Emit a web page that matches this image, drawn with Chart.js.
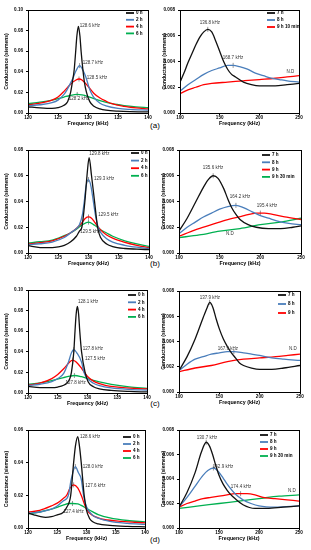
<!DOCTYPE html>
<html>
<head>
<meta charset="utf-8">
<script src="https://cdn.jsdelivr.net/npm/chart.js@4.4.0/dist/chart.umd.min.js"></script>
<style>
  body { margin: 0; background: #fff; width: 311px; height: 550px; position: relative; overflow: hidden; font-family: "Liberation Sans", Arial, sans-serif; }
  .tag { position: absolute; width: 20px; text-align: center; font-size: 8px; color: #000; }
</style>
</head>
<body>
<div class="tag" style="left:145px;top:121px">(a)</div>
<div class="tag" style="left:145px;top:259px">(b)</div>
<div class="tag" style="left:145px;top:399px">(c)</div>
<div class="tag" style="left:145px;top:535px">(d)</div>
<script>
// tick values
const leftXTicks = [120, 125, 130, 135, 140];
const rightXTicks = [100, 150, 200, 250];
const yTicks010 = [0, 0.02, 0.04, 0.06, 0.08, 0.10];
const yTicks008 = [0, 0.02, 0.04, 0.06, 0.08];
const yTicks006 = [0, 0.02, 0.04, 0.06];
const yTicksRight = [0, 0.002, 0.004, 0.006, 0.008];

// legend labels
const leftLabels = ['0 h', '2 h', '4 h', '6 h'];
const rightLabelsA = ['7 h', '8 h', '9 h 10 min'];
const rightLabelsB = ['7 h', '8 h', '9 h', '9 h 30 min'];
const rightLabelsC = ['7 h', '8 h', '9 h'];
const rightLabelsD = ['7 h', '8 h', '9 h', '9 h 30 min'];

// (a) left: [frequency kHz, conductance S]
const aL0h = [[120,0.0060],[122,0.0050],[124,0.0045],[125,0.0052],[126,0.0075],[126.6,0.011],[127.1,0.020],[127.4,0.030],[127.7,0.042],[127.95,0.060],[128.15,0.075],[128.4,0.084],[128.65,0.075],[128.85,0.060],[129.15,0.042],[129.4,0.030],[129.75,0.020],[130.3,0.011],[131,0.0065],[132,0.0040],[133,0.0028],[135,0.0018],[137,0.0013],[140,0.0010]];
const aL2h = [[120,0.0070],[122,0.0080],[124,0.0100],[125,0.0125],[126,0.0180],[126.5,0.0225],[127,0.028],[127.5,0.034],[128,0.041],[128.6,0.046],[129.2,0.041],[129.7,0.034],[130.1,0.026],[130.5,0.020],[131,0.015],[132,0.0095],[133,0.0070],[135,0.0045],[137,0.0035],[140,0.0028]];
const aL4h = [[120,0.0080],[122,0.0095],[124,0.0125],[125,0.0155],[126,0.0210],[127,0.0275],[128,0.0320],[128.5,0.0330],[129,0.0320],[130,0.0260],[131,0.0190],[132,0.0145],[133,0.0115],[134,0.0090],[136,0.0065],[138,0.0050],[140,0.0040]];
const aL6h = [[120,0.0090],[122,0.0105],[124,0.0125],[126,0.0155],[127,0.0170],[128.2,0.0180],[129,0.0175],[130,0.0160],[131,0.0140],[132,0.0120],[134,0.0090],[136,0.0072],[138,0.0060],[140,0.0052]];
const aLMarks = [[128.6,0.046],[128.5,0.033],[128.2,0.018]];
const aLNotes = [[130.3,0.0845,'128.6 kHz'],[130.8,0.0485,'128.7 kHz'],[131.5,0.034,'128.5 kHz'],[128.5,0.0136,'128.2 kHz']];

// (a) right
const aR7h = [[100,0.0024],[105,0.0031],[110,0.0039],[115,0.0046],[120,0.0053],[125,0.0059],[130,0.0063],[135,0.0065],[140,0.0063],[145,0.0056],[150,0.0048],[155,0.0040],[160,0.0034],[165,0.0030],[170,0.0028],[180,0.0024],[190,0.0022],[200,0.0021],[220,0.0021],[235,0.0022],[250,0.0023]];
const aR8h = [[100,0.0017],[110,0.0022],[120,0.0026],[130,0.0030],[140,0.0033],[150,0.0035],[160,0.0037],[167,0.0037],[175,0.0036],[185,0.0034],[195,0.0031],[205,0.0029],[215,0.0027],[225,0.0026],[235,0.0025],[250,0.0024]];
const aR9h10 = [[100,0.0015],[110,0.0018],[120,0.0020],[130,0.0022],[140,0.0023],[160,0.0024],[180,0.0025],[200,0.0026],[220,0.0027],[235,0.0028],[250,0.0029]];
const aRMarks = [[135,0.0065],[167,0.0037]];
const aRNotes = [[137.8,0.0070,'136.8 kHz'],[166.8,0.00427,'168.7 kHz'],[239,0.0032,'N.D']];

// (b) left
const bL0h = [[120,0.0057],[122,0.0042],[124,0.0042],[125,0.0048],[126,0.0060],[127,0.0085],[128,0.0130],[128.5,0.0170],[128.9,0.0200],[129.4,0.0400],[129.75,0.0600],[130.1,0.0740],[130.5,0.0600],[131,0.0400],[131.5,0.0200],[132,0.0120],[133,0.0070],[134,0.0050],[136,0.0035],[138,0.0030],[140,0.0026]];
const bL2h = [[120,0.0065],[122,0.0072],[124,0.0085],[126,0.0120],[127,0.0155],[128,0.0190],[128.5,0.0220],[129,0.0300],[129.3,0.0400],[129.6,0.0520],[130,0.0570],[130.4,0.0520],[130.8,0.0400],[131.2,0.0280],[131.6,0.0200],[132,0.0160],[133,0.0110],[134,0.0085],[136,0.0060],[138,0.0045],[140,0.0035]];
const bL4h = [[120,0.0070],[122,0.0080],[124,0.0095],[126,0.0130],[127,0.0155],[128,0.0190],[129,0.0240],[129.5,0.0270],[130,0.0280],[130.5,0.0270],[131,0.0240],[132,0.0180],[133,0.0140],[134,0.0115],[136,0.0083],[138,0.0060],[140,0.0042]];
const bL6h = [[120,0.0078],[122,0.0088],[124,0.0100],[126,0.0135],[127,0.0155],[128,0.0185],[129,0.0220],[130,0.0240],[131,0.0215],[132,0.0180],[133,0.0155],[134,0.0130],[136,0.0095],[138,0.0070],[140,0.0052]];
const bLMarks = [[130,0.057],[130,0.028],[130,0.024]];
const bLNotes = [[131.8,0.0769,'129.8 kHz'],[132.6,0.0575,'129.3 kHz'],[133.3,0.0295,'129.5 kHz'],[130.3,0.0163,'129.5 kHz']];

// (b) right
const bR7h = [[100,0.0017],[110,0.0027],[120,0.0039],[130,0.0051],[136,0.0057],[142,0.0060],[148,0.0058],[155,0.0050],[160,0.0042],[165,0.0035],[170,0.0030],[175,0.0026],[185,0.0022],[195,0.0020],[210,0.0019],[225,0.0019],[240,0.0020],[250,0.0021]];
const bR8h = [[100,0.0015],[110,0.0020],[120,0.0024],[130,0.0028],[140,0.0031],[150,0.0034],[160,0.0036],[170,0.0037],[180,0.0035],[190,0.0032],[200,0.0029],[210,0.0027],[220,0.0025],[235,0.0023],[250,0.0022]];
const bR9h = [[100,0.0013],[120,0.0018],[140,0.0022],[160,0.0026],[180,0.0029],[195,0.0031],[205,0.0031],[215,0.0030],[230,0.0028],[250,0.0026]];
const bR9h30 = [[100,0.0012],[125,0.0014],[150,0.0017],[175,0.0019],[200,0.0022],[225,0.0024],[250,0.0027]];
const bRMarks = [[142,0.0060],[170,0.0037],[200,0.0031]];
const bRNotes = [[141.8,0.0066,'135.6 kHz'],[175,0.00435,'164.2 kHz'],[208.2,0.00365,'195.4 kHz'],[162.7,0.00148,'N.D']];

// (c) left
const cL0h = [[120,0.0065],[122,0.0052],[124,0.0052],[125,0.0058],[126,0.0075],[126.6,0.0100],[127,0.0135],[127.3,0.0200],[127.7,0.0400],[127.9,0.0600],[128.1,0.0770],[128.3,0.0840],[128.5,0.0770],[128.7,0.0600],[129,0.0400],[129.6,0.0200],[130.1,0.0110],[131,0.0060],[132,0.0040],[134,0.0025],[137,0.0015],[140,0.0010]];
const cL2h = [[120,0.0072],[122,0.0085],[124,0.0110],[125,0.0140],[126,0.0190],[126.8,0.0300],[127.3,0.0390],[127.7,0.0420],[128.2,0.0390],[129,0.0300],[129.4,0.0200],[130,0.0140],[131,0.0095],[132,0.0072],[134,0.0050],[137,0.0035],[140,0.0028]];
const cL4h = [[120,0.0075],[122,0.0095],[124,0.0140],[125,0.0180],[126,0.0235],[127,0.0300],[127.5,0.0320],[128,0.0305],[129,0.0240],[130,0.0160],[131,0.0115],[132,0.0090],[133,0.0075],[136,0.0052],[140,0.0040]];
const cL6h = [[120,0.0084],[122,0.0098],[124,0.0120],[126,0.0150],[127,0.0163],[127.8,0.0170],[129,0.0158],[130,0.0140],[131,0.0122],[132,0.0107],[134,0.0084],[137,0.0060],[140,0.0045]];
const cLMarks = [[127.7,0.042],[127.5,0.032],[127.8,0.017]];
const cLNotes = [[130.1,0.0883,'128.1 kHz'],[130.9,0.0427,'127.8 kHz'],[131.3,0.033,'127.5 kHz'],[128.0,0.0097,'127.8 kHz']];

// (c) right
const cR7h = [[100,0.0017],[110,0.0028],[120,0.0042],[130,0.0059],[135,0.0067],[138,0.0071],[142,0.0067],[146,0.0058],[150,0.0050],[155,0.0042],[160,0.0036],[165,0.0031],[170,0.0027],[175,0.0023],[180,0.0021],[190,0.0019],[200,0.0018],[215,0.0018],[230,0.0019],[250,0.0021]];
const cR8h = [[100,0.0017],[110,0.0022],[120,0.0026],[130,0.0028],[140,0.0030],[150,0.0031],[160,0.0032],[168,0.0032],[180,0.0031],[190,0.0030],[200,0.0029],[215,0.0027],[230,0.0026],[250,0.0025]];
const cR9h = [[100,0.0016],[120,0.0019],[140,0.0021],[160,0.0024],[180,0.0026],[200,0.0027],[220,0.0028],[235,0.0029],[250,0.0030]];
const cRMarks = [[138,0.0071],[168,0.0032]];
const cRNotes = [[138.4,0.0075,'137.9 kHz'],[160.7,0.0034,'167.9 kHz'],[241.3,0.0034,'N.D']];

// (d) left
const dL0h = [[120,0.0092],[121,0.0081],[122,0.0071],[123,0.0065],[124,0.0069],[125,0.0081],[126,0.0095],[126.6,0.0125],[127.3,0.0200],[127.8,0.0400],[128.1,0.0500],[128.5,0.0560],[128.8,0.0500],[129.1,0.0400],[129.6,0.0200],[130,0.0110],[130.5,0.0060],[131,0.0040],[132,0.0025],[134,0.0016],[137,0.0010],[140,0.0007]];
const dL2h = [[120,0.0090],[122,0.0098],[124,0.0115],[125,0.0135],[126,0.0165],[126.9,0.0200],[127.4,0.0300],[128.1,0.0376],[128.6,0.0340],[129.1,0.0300],[129.5,0.0200],[130,0.0130],[131,0.0080],[132,0.0060],[134,0.0040],[137,0.0028],[140,0.0022]];
const dL4h = [[120,0.0098],[122,0.0108],[124,0.0135],[125,0.0152],[126,0.0180],[126.6,0.0200],[127.2,0.0245],[127.8,0.0264],[128.5,0.0245],[129.1,0.0200],[130,0.0115],[131,0.0078],[132,0.0062],[133,0.0052],[136,0.0040],[140,0.0031]];
const dL6h = [[120,0.0086],[122,0.0098],[124,0.0115],[126,0.0140],[127,0.0150],[127.6,0.0150],[128.5,0.0148],[129,0.0140],[130,0.0120],[131,0.0100],[132,0.0082],[134,0.0062],[137,0.0046],[140,0.0037]];
const dLMarks = [[128.1,0.0376],[127.8,0.0264],[127.6,0.0150]];
const dLNotes = [[130.6,0.0557,'128.6 kHz'],[131.1,0.0374,'128.0 kHz'],[131.5,0.0257,'127.6 kHz'],[127.8,0.0098,'127.4 kHz']];

// (d) right
const dR7h = [[100,0.0017],[110,0.0029],[120,0.0045],[128,0.0062],[134,0.0070],[138,0.0067],[142,0.0060],[146,0.0051],[150,0.0043],[155,0.0036],[160,0.0031],[165,0.0027],[170,0.0024],[180,0.0019],[195,0.0016],[210,0.0016],[230,0.0017],[250,0.0018]];
const dR8h = [[100,0.0017],[110,0.0025],[120,0.0034],[130,0.0043],[136,0.0047],[143,0.0049],[148,0.0047],[155,0.0041],[160,0.0036],[170,0.0028],[180,0.0023],[190,0.0020],[200,0.0018],[220,0.0017],[250,0.0018]];
const dR9h = [[100,0.0017],[110,0.0020],[120,0.0022],[130,0.0024],[140,0.0025],[150,0.0026],[160,0.0027],[170,0.0028],[177,0.0028],[185,0.0028],[195,0.0027],[205,0.0025],[220,0.0024],[235,0.0023],[250,0.0022]];
const dR9h30 = [[100,0.0016],[125,0.0018],[150,0.0020],[175,0.0022],[200,0.0024],[225,0.0026],[250,0.0027]];
const dRMarks = [[134,0.0070],[143,0.0049],[177,0.0028]];
const dRNotes = [[135,0.0074,'130.7 kHz'],[155,0.0050,'142.9 kHz'],[177.5,0.00335,'174.4 kHz'],[241,0.0030,'N.D']];

const colors = ['#111111', '#4a7ebb', '#ff0000', '#00b050'];
const FONT = '"Liberation Sans", Arial, sans-serif';

// frame, legend, peak labels
const extras = {
    id: 'extras',
    afterDatasetsDraw(chart, args, opts) {
        const { ctx, chartArea: a, scales: { x, y } } = chart;
        ctx.save();
        ctx.strokeStyle = '#000';
        ctx.lineWidth = 1;
        ctx.strokeRect(a.left + 0.5, a.top + 0.5, a.right - a.left, a.bottom - a.top);

        // peak labels
        ctx.font = '4.5px ' + FONT;
        ctx.fillStyle = '#333';
        ctx.textAlign = 'center';
        ctx.textBaseline = 'middle';
        opts.notes.forEach(n => ctx.fillText(n[2], x.getPixelForValue(n[0]), y.getPixelForValue(n[1])));

        // legend
        const lg = opts.legend;
        ctx.font = 'bold 4.6px ' + FONT;
        ctx.textAlign = 'left';
        ctx.fillStyle = '#000';
        ctx.lineWidth = 1.8;
        opts.labels.forEach((lab, i) => {
            const lx = a.right - lg.dx;
            const ly = a.top + lg.dy + i * lg.sp;
            ctx.strokeStyle = colors[i];
            ctx.beginPath();
            ctx.moveTo(lx, ly);
            ctx.lineTo(lx + 8, ly);
            ctx.stroke();
            ctx.fillText(lab, lx + 10, ly);
        });
        ctx.restore();
    }
};

function makePanel(p) {
    const [l, t, r, b] = p.plot;
    const left = l - 28, top = t - 8;
    const w = r - left + 6, h = b - top + 16;
    const cv = document.createElement('canvas');
    cv.width = w;
    cv.height = h;
    cv.style.cssText = `position:absolute;left:${left}px;top:${top}px;width:${w}px;height:${h}px`;
    document.body.appendChild(cv);

    const datasets = p.series.map((s, i) => ({
        label: p.labels[i],
        data: s.map(q => ({ x: q[0], y: q[1] })),
        borderColor: colors[i],
        borderWidth: 1.3,
        pointRadius: 0,
        fill: false,
        cubicInterpolationMode: 'monotone'
    }));
    datasets.push({
        type: 'scatter',
        data: p.marks.map(q => ({ x: q[0], y: q[1] })),
        pointStyle: 'line',
        rotation: 90,
        pointRadius: 2.5,
        borderColor: '#777',
        borderWidth: 0.8,
        showLine: false
    });

    const xt = p.xTicks, yt = p.yTicks;
    const titlePad = p.titleX - left - 3;

    new Chart(cv, {
        type: 'line',
        data: { datasets: datasets },
        plugins: [extras],
        options: {
            responsive: false,
            animation: false,
            devicePixelRatio: 1,
            layout: { padding: { left: 0, top: 8, right: 6, bottom: 0 } },
            plugins: {
                legend: { display: false },
                tooltip: { enabled: false },
                extras: { notes: p.notes, labels: p.labels, legend: p.legend }
            },
            scales: {
                x: {
                    type: 'linear',
                    min: xt[0],
                    max: xt[xt.length - 1],
                    afterBuildTicks: s => { s.ticks = xt.map(v => ({ value: v })); },
                    afterFit: s => { s.height = 16; },
                    grid: { drawOnChartArea: false, tickLength: 2, color: '#000' },
                    border: { color: '#000', width: 1 },
                    ticks: { padding: 0, maxRotation: 0, color: '#000', font: { family: FONT, size: 4.6, weight: 'bold' } },
                    title: { display: true, text: 'Frequency (kHz)', color: '#000', padding: { top: 0, bottom: 2 }, font: { family: FONT, size: 5.3, weight: 'bold' } }
                },
                y: {
                    min: yt[0],
                    max: yt[yt.length - 1],
                    afterBuildTicks: s => { s.ticks = yt.map(v => ({ value: v })); },
                    afterFit: s => { s.width = 28; },
                    grid: { drawOnChartArea: false, tickLength: 2, color: '#000' },
                    border: { color: '#000', width: 1 },
                    ticks: {
                        padding: 3,
                        color: '#000',
                        font: { family: FONT, size: 4.6, weight: 'bold' },
                        callback: v => v.toFixed(p.digits)
                    },
                    title: { display: true, text: 'Conductance (siemens)', color: '#000', padding: { top: titlePad, bottom: 0 }, font: { family: FONT, size: 5, weight: 'bold' } }
                }
            }
        }
    });
}

makePanel({ plot: [28, 10, 148, 113], titleX: 7, xTicks: leftXTicks, yTicks: yTicks010, digits: 2, labels: leftLabels,
    series: [aL0h, aL2h, aL4h, aL6h], marks: aLMarks, notes: aLNotes, legend: { dx: 22, dy: 3, sp: 6.8 } });
makePanel({ plot: [180, 10, 299, 113], titleX: 165, xTicks: rightXTicks, yTicks: yTicksRight, digits: 3, labels: rightLabelsA,
    series: [aR7h, aR8h, aR9h10], marks: aRMarks, notes: aRNotes, legend: { dx: 32, dy: 3, sp: 7 } });
makePanel({ plot: [28, 150, 149, 253], titleX: 7, xTicks: leftXTicks, yTicks: yTicks008, digits: 2, labels: leftLabels,
    series: [bL0h, bL2h, bL4h, bL6h], marks: bLMarks, notes: bLNotes, legend: { dx: 18, dy: 3, sp: 7.6 } });
makePanel({ plot: [179, 150, 301, 253], titleX: 164, xTicks: rightXTicks, yTicks: yTicksRight, digits: 3, labels: rightLabelsB,
    series: [bR7h, bR8h, bR9h, bR9h30], marks: bRMarks, notes: bRNotes, legend: { dx: 39, dy: 5, sp: 7.3 } });
makePanel({ plot: [28, 290, 147, 393], titleX: 7, xTicks: leftXTicks, yTicks: yTicks010, digits: 2, labels: leftLabels,
    series: [cL0h, cL2h, cL4h, cL6h], marks: cLMarks, notes: cLNotes, legend: { dx: 19, dy: 5, sp: 7.3 } });
makePanel({ plot: [179, 291, 300, 392], titleX: 164, xTicks: rightXTicks, yTicks: yTicksRight, digits: 3, labels: rightLabelsC,
    series: [cR7h, cR8h, cR9h], marks: cRMarks, notes: cRNotes, legend: { dx: 22, dy: 4, sp: 9 } });
makePanel({ plot: [28, 430, 145, 528], titleX: 7, xTicks: leftXTicks, yTicks: yTicks006, digits: 2, labels: leftLabels,
    series: [dL0h, dL2h, dL4h, dL6h], marks: dLMarks, notes: dLNotes, legend: { dx: 22, dy: 7, sp: 7 } });
makePanel({ plot: [179, 430, 299, 528], titleX: 164, xTicks: rightXTicks, yTicks: yTicksRight, digits: 3, labels: rightLabelsD,
    series: [dR7h, dR8h, dR9h, dR9h30], marks: dRMarks, notes: dRNotes, legend: { dx: 39, dy: 5, sp: 7 } });
</script>
</body>
</html>
